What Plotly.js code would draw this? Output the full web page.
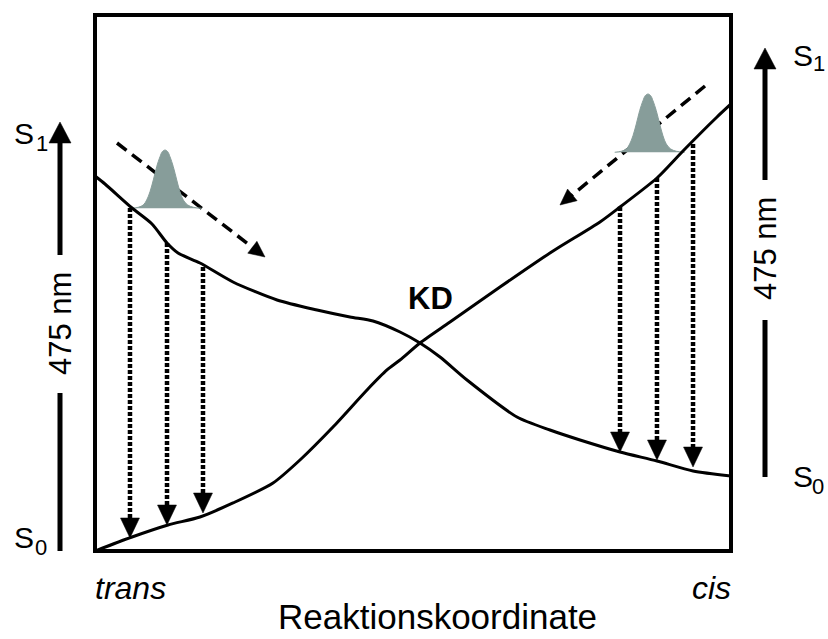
<!DOCTYPE html>
<html><head><meta charset="utf-8">
<script src="https://cdn.plot.ly/plotly-3.0.1.min.js"></script>
<style>html,body{margin:0;padding:0;background:#fff}</style>
</head><body><div id="chart" style="width:828px;height:639px"></div>
<script>
// trans-S1 potential curve (descending, ends at cis S0)
const transS1X = [0, 1.57, 5.82, 8.96, 11.32, 13.05, 16.51, 21.70, 28.62, 34.91, 40.09, 43.71, 47.96, 51.10, 54.25, 58.49, 66.35, 71.54, 76.26, 82.55, 88.36, 94.03, 100];
const transS1Y = [69.96, 68.47, 63.99, 61.01, 57.46, 55.60, 53.73, 50.19, 46.83, 44.96, 43.66, 42.91, 40.86, 38.81, 36.19, 31.90, 25.00, 22.57, 20.71, 18.47, 16.79, 14.93, 13.99];
// cis-S1 potential curve (ascending from trans S0)
const cisS1X = [0, 5.82, 11.48, 16.51, 21.70, 27.99, 32.23, 37.42, 42.77, 45.91, 47.96, 51.10, 55.82, 63.68, 71.54, 79.40, 82.55, 88.36, 92.45, 97.80, 100];
const cisS1Y = [0, 2.61, 4.85, 6.34, 8.96, 12.69, 16.98, 23.13, 30.04, 33.77, 35.63, 38.81, 42.72, 49.25, 55.60, 61.38, 64.18, 69.59, 74.63, 80.97, 83.40];
// emission drops (dotted arrows)
const leftDropX = [5.50, 11.32, 16.98];
const leftDropTop = [63.99, 57.46, 52.99];
const leftDropTip = [2.43, 4.85, 7.09];
const rightDropX = [82.55, 88.36, 94.03];
const rightDropTop = [64.18, 69.59, 75.93];
const rightDropTip = [18.47, 16.98, 15.67];
// wave packets
const wpLeftX = [5.77, 6.81, 7.59, 8.13, 8.65, 9.17, 9.70, 10.22, 10.58, 11.01, 11.43, 11.79, 12.31, 12.85, 13.36, 13.88, 14.58, 15.46, 16.78];
const wpLeftY = [63.94, 64.13, 64.55, 65.49, 67.03, 69.22, 71.70, 73.56, 74.50, 74.81, 74.50, 73.56, 71.70, 69.22, 67.03, 65.49, 64.55, 64.13, 63.94];
const wpRightX = [81.71, 82.75, 83.53, 84.07, 84.59, 85.11, 85.64, 86.16, 86.52, 86.95, 87.37, 87.73, 88.25, 88.79, 89.30, 89.82, 90.52, 91.40, 92.72];
const wpRightY = [74.39, 74.58, 75.00, 75.94, 77.48, 79.67, 82.15, 84.01, 84.95, 85.26, 84.95, 84.01, 82.15, 79.67, 77.48, 75.94, 75.00, 74.58, 74.39];
// relaxation paths (dashed arrows)
const relaxLeftX = [3.46, 26.73], relaxLeftY = [76.12, 54.85];
const relaxRightX = [95.91, 73.11], relaxRightY = [86.75, 64.55];
// labels
const stateLabel = 'S';
const stateSubs = ['1', '0', '1', '0'];
const gapLabel = '475 nm';
const endLabels = ['trans', 'cis'];
const xLabel = 'Reaktionskoordinate';
const crossLabel = 'KD';

const W = 828, H = 639, M = {l: 95, r: 97, t: 15, b: 88, pad: 0};
const PW = W - M.l - M.r, PH = H - M.t - M.b;
const pxX = PW / 100, pxY = PH / 100;
const FONT = 'Liberation Sans, Arial, sans-serif';
const traces = [];
const annotations = [];
const shapes = [];

// filled triangular arrowhead, tip at (x,y) in data units, direction (ux,uy) in pixel space (y up)
function head(x, y, ux, uy, len, halfW) {
  const n = Math.hypot(ux, uy); ux /= n; uy /= n;
  const bx = -ux * len, by = -uy * len;
  const px = -uy * halfW, py = ux * halfW;
  const xs = [x, x + (bx + px) / pxX, x + (bx - px) / pxX, x];
  const ys = [y, y + (by + py) / pxY, y + (by - py) / pxY, y];
  traces.push({x: xs, y: ys, mode: 'lines', fill: 'toself', fillcolor: '#000', line: {color: '#000', width: 0.5}, hoverinfo: 'skip'});
}

function dashedArrow(xs, ys) {
  const dxp = (xs[1] - xs[0]) * pxX, dyp = (ys[1] - ys[0]) * pxY;
  const len = Math.hypot(dxp, dyp);
  const back = 12 / len;
  const ex = xs[1] - (xs[1] - xs[0]) * back, ey = ys[1] - (ys[1] - ys[0]) * back;
  traces.push({x: [xs[0], ex], y: [ys[0], ey], mode: 'lines', line: {color: '#000', width: 3.5, dash: '12px,7px'}, hoverinfo: 'skip'});
  head(xs[1], ys[1], dxp, dyp, 16, 7.5);
}
dashedArrow(relaxLeftX, relaxLeftY);
dashedArrow(relaxRightX, relaxRightY);

traces.push({x: wpLeftX, y: wpLeftY, mode: 'lines', fill: 'toself', fillcolor: '#879d9a', line: {color: '#879d9a', width: 1, shape: 'spline'}, hoverinfo: 'skip'});
traces.push({x: wpRightX, y: wpRightY, mode: 'lines', fill: 'toself', fillcolor: '#879d9a', line: {color: '#879d9a', width: 1, shape: 'spline'}, hoverinfo: 'skip'});

function drops(xs, tops, tips) {
  const hl = 20;
  xs.forEach((x, i) => {
    traces.push({x: [x, x], y: [tops[i], tips[i] + (hl - 2) / pxY], mode: 'lines', line: {color: '#000', width: 4.5, dash: '4px,2px'}, hoverinfo: 'skip'});
    head(x, tips[i], 0, -1, hl, 9.5);
  });
}
drops(leftDropX, leftDropTop, leftDropTip);
drops(rightDropX, rightDropTop, rightDropTip);

traces.push({x: transS1X, y: transS1Y, mode: 'lines', line: {color: '#000', width: 3, shape: 'spline', smoothing: 0.7}, hoverinfo: 'skip'});
traces.push({x: cisS1X, y: cisS1Y, mode: 'lines', line: {color: '#000', width: 3, shape: 'spline', smoothing: 0.7}, hoverinfo: 'skip'});

// frame
shapes.push({type: 'rect', xref: 'paper', yref: 'paper', x0: 0, x1: 1, y0: 0, y1: 1, line: {color: '#000', width: 4}});

// outer energy-gap arrows (paper coordinates from pixel offsets)
const pX = (px) => (px - M.l) / PW, pY = (py) => (H - M.b - py) / PH;
function outerArrow(cx, tipY, shaftEnd, lineTop, lineBot) {
  const hl = 21, hw = 11;
  shapes.push({type: 'path', xref: 'paper', yref: 'paper', fillcolor: '#000', line: {color: '#000', width: 0.5},
    path: `M${pX(cx)},${pY(tipY)} L${pX(cx - hw)},${pY(tipY + hl)} L${pX(cx + hw)},${pY(tipY + hl)} Z`});
  shapes.push({type: 'line', xref: 'paper', yref: 'paper', x0: pX(cx), x1: pX(cx), y0: pY(tipY + hl - 2), y1: pY(shaftEnd), line: {color: '#000', width: 5}});
  shapes.push({type: 'line', xref: 'paper', yref: 'paper', x0: pX(cx), x1: pX(cx), y0: pY(lineTop), y1: pY(lineBot), line: {color: '#000', width: 5}});
}
outerArrow(60, 122, 255, 393, 551);
outerArrow(765, 48, 180, 320, 477);

const fnt = (s) => ({family: FONT, size: s, color: '#000'});
const txt = (o) => Object.assign({xref: 'paper', yref: 'paper', showarrow: false, xanchor: 'center', yanchor: 'middle', font: fnt(30)}, o);
annotations.push(txt({x: pX(60), y: pY(324), text: gapLabel, textangle: -90, font: fnt(31)}));
annotations.push(txt({x: pX(765), y: pY(249), text: gapLabel, textangle: -90, font: fnt(31)}));
// state labels: S + subscript digit
const statePos = [[12, 134, 34, 144], [12, 537, 33, 547], [791, 55, 811, 64], [791, 476, 810, 486]];
statePos.forEach((p, i) => {
  annotations.push(txt({x: pX(p[0]), y: pY(p[1]), xanchor: 'left', text: stateLabel, font: fnt(30)}));
  annotations.push(txt({x: pX(p[2]), y: pY(p[3]), xanchor: 'left', text: stateSubs[i], font: fnt(22)}));
});
annotations.push(txt({x: pX(93), y: pY(588), xanchor: 'left', text: '<i>' + endLabels[0] + '</i>', font: fnt(32)}));
annotations.push(txt({x: pX(733), y: pY(588), xanchor: 'right', text: '<i>' + endLabels[1] + '</i>', font: fnt(32)}));
annotations.push(txt({x: pX(437), y: pY(638), yanchor: 'bottom', text: xLabel, font: fnt(35)}));
annotations.push(txt({x: pX(430), y: pY(298), text: '<b>' + crossLabel + '</b>', font: fnt(31)}));

const ax = {range: [0, 100], showgrid: false, zeroline: false, showticklabels: false, ticks: '', showline: false, fixedrange: true};
const layout = {
  width: W, height: H, margin: M, showlegend: false,
  paper_bgcolor: '#fff', plot_bgcolor: '#fff',
  xaxis: Object.assign({}, ax), yaxis: Object.assign({}, ax),
  shapes: shapes, annotations: annotations,
  font: {family: FONT}
};
Plotly.newPlot('chart', traces, layout, {displayModeBar: false, staticPlot: true});
</script></body></html>
